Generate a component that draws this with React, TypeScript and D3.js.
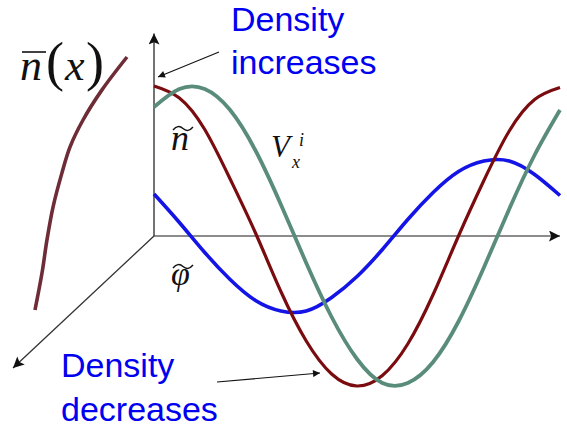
import React from "react";
import * as d3 from "d3";

// Phase positions along the propagation axis (0 = origin, 100 = right end)
const phase = [0, 6.25, 12.5, 18.75, 25, 31.25, 37.5, 43.75, 50, 56.25, 62.5, 68.75, 75, 81.25, 87.5, 93.75, 100];

// Density perturbation ñ
const densityWave = [1.0, 0.92, 0.71, 0.38, 0.02, -0.37, -0.7, -0.92, -1.0, -0.93, -0.72, -0.39, 0.0, 0.37, 0.7, 0.91, 0.99];
// Ion velocity V_x^i
const velocityWave = [0.86, 0.98, 0.98, 0.84, 0.57, 0.21, -0.18, -0.54, -0.82, -0.98, -0.98, -0.84, -0.57, -0.21, 0.18, 0.54, 0.84];
// Potential perturbation φ̃
const potentialWave = [0.28, 0.09, -0.11, -0.29, -0.43, -0.5, -0.5, -0.41, -0.27, -0.09, 0.11, 0.29, 0.43, 0.5, 0.5, 0.41, 0.27];

// Background density profile n̄(x): height along the profile vs. level
const profileHeight = [0, 0.146, 0.277, 0.407, 0.542, 0.644, 0.751, 0.87, 1];
const profileLevel = [0, 0.076, 0.13, 0.196, 0.293, 0.38, 0.522, 0.728, 1];

const W = 567;
const H = 432;

export default function App() {
  const x = d3.scaleLinear().domain([0, 100]).range([154, 560]);
  const y = d3.scaleLinear().domain([-1, 1]).range([386, 86]);

  const px = d3.scaleLinear().domain([0, 1]).range([35, 127]);
  const py = d3.scaleLinear().domain([0, 1]).range([310, 57]);

  // depth axis direction (into the page)
  const depth = { dx: -141, dy: 132 };

  const wave = d3
    .line<number>()
    .x((_, i) => x(phase[i]))
    .y((d) => y(d))
    .curve(d3.curveNatural);

  const profile = d3
    .line<number>()
    .x((d) => px(d))
    .y((_, i) => py(profileHeight[i]))
    .curve(d3.curveCatmullRom);

  const ox = x(0);
  const oy = y(0);

  const serif = "'Liberation Serif', 'Times New Roman', serif";
  const sans = "'Liberation Sans', Arial, sans-serif";

  return (
    <svg
      width={W}
      height={H}
      viewBox={`0 0 ${W} ${H}`}
      style={{ position: "absolute", left: 0, top: 0, background: "#fff" }}
    >
      <defs>
        <marker id="head" viewBox="0 0 10 10" refX="10" refY="5" markerWidth="8" markerHeight="7" orient="auto" markerUnits="userSpaceOnUse">
          <path d="M0,0 L10,5 L0,10 z" fill="#111" />
        </marker>
        <marker id="axisHead" viewBox="0 0 10 10" refX="10" refY="5" markerWidth="15" markerHeight="11" orient="auto" markerUnits="userSpaceOnUse">
          <path d="M0,0 L10,5 L0,10 L2,5 z" fill="#111" />
        </marker>
      </defs>

      {/* axes */}
      <line x1={ox} y1={oy} x2={x(100)} y2={oy} stroke="#666" strokeWidth={1.5} markerEnd="url(#axisHead)" />
      <line x1={ox} y1={oy} x2={ox} y2={y(1.35)} stroke="#444" strokeWidth={1.5} markerEnd="url(#axisHead)" />
      <line
        x1={ox}
        y1={oy}
        x2={ox + depth.dx}
        y2={oy + depth.dy}
        stroke="#333"
        strokeWidth={1.3}
        markerEnd="url(#axisHead)"
      />

      {/* waves */}
      <path d={wave(potentialWave) ?? ""} fill="none" stroke="#1414e6" strokeWidth={3.6} />
      <path d={wave(densityWave) ?? ""} fill="none" stroke="#7a0c10" strokeWidth={3.2} />
      <path d={wave(velocityWave) ?? ""} fill="none" stroke="#5a8c7c" strokeWidth={3.8} />

      {/* background profile */}
      <path d={profile(profileLevel) ?? ""} fill="none" stroke="#6e2c36" strokeWidth={3.6} />

      {/* n̄(x) label */}
      <g fontFamily={serif} fill="#111">
        <text x={20} y={80} fontSize={44} fontStyle="italic">n</text>
        <line x1={22} y1={52} x2={46} y2={52} stroke="#111" strokeWidth={1.6} />
        <text x={46} y={80} fontSize={54}>(</text>
        <text x={65} y={80} fontSize={44} fontStyle="italic">x</text>
        <text x={86} y={80} fontSize={54}>)</text>
      </g>

      {/* ñ label */}
      <g fontFamily={serif} fill="#111">
        <text x={171} y={150} fontSize={36} fontStyle="italic">n</text>
        <path d="M173,130 q5,-6 10,-1.5 t10,-1.5" fill="none" stroke="#111" strokeWidth={1.4} />
      </g>

      {/* V_x^i label */}
      <g fontFamily={serif} fill="#111" fontStyle="italic">
        <text x={271} y={157} fontSize={31}>V</text>
        <text x={299} y={146} fontSize={18}>i</text>
        <text x={292} y={168} fontSize={18}>x</text>
      </g>

      {/* φ̃ label */}
      <g fontFamily={serif} fill="#111">
        <text x={171} y={285} fontSize={34} fontStyle="italic">φ</text>
        <path d="M173,268 q5,-6 10,-1.5 t10,-1.5" fill="none" stroke="#111" strokeWidth={1.4} />
      </g>

      {/* annotations */}
      <g fontFamily={sans} fill="#0000f0" fontSize={34}>
        <text x={231} y={31}>Density</text>
        <text x={231} y={74}>increases</text>
        <text x={61} y={377}>Density</text>
        <text x={61} y={421}>decreases</text>
      </g>
      <line x1={219} y1={52} x2={158} y2={77} stroke="#111" strokeWidth={1.1} markerEnd="url(#head)" />
      <line x1={217} y1={382} x2={320} y2={373} stroke="#111" strokeWidth={1.1} markerEnd="url(#head)" />
    </svg>
  );
}
